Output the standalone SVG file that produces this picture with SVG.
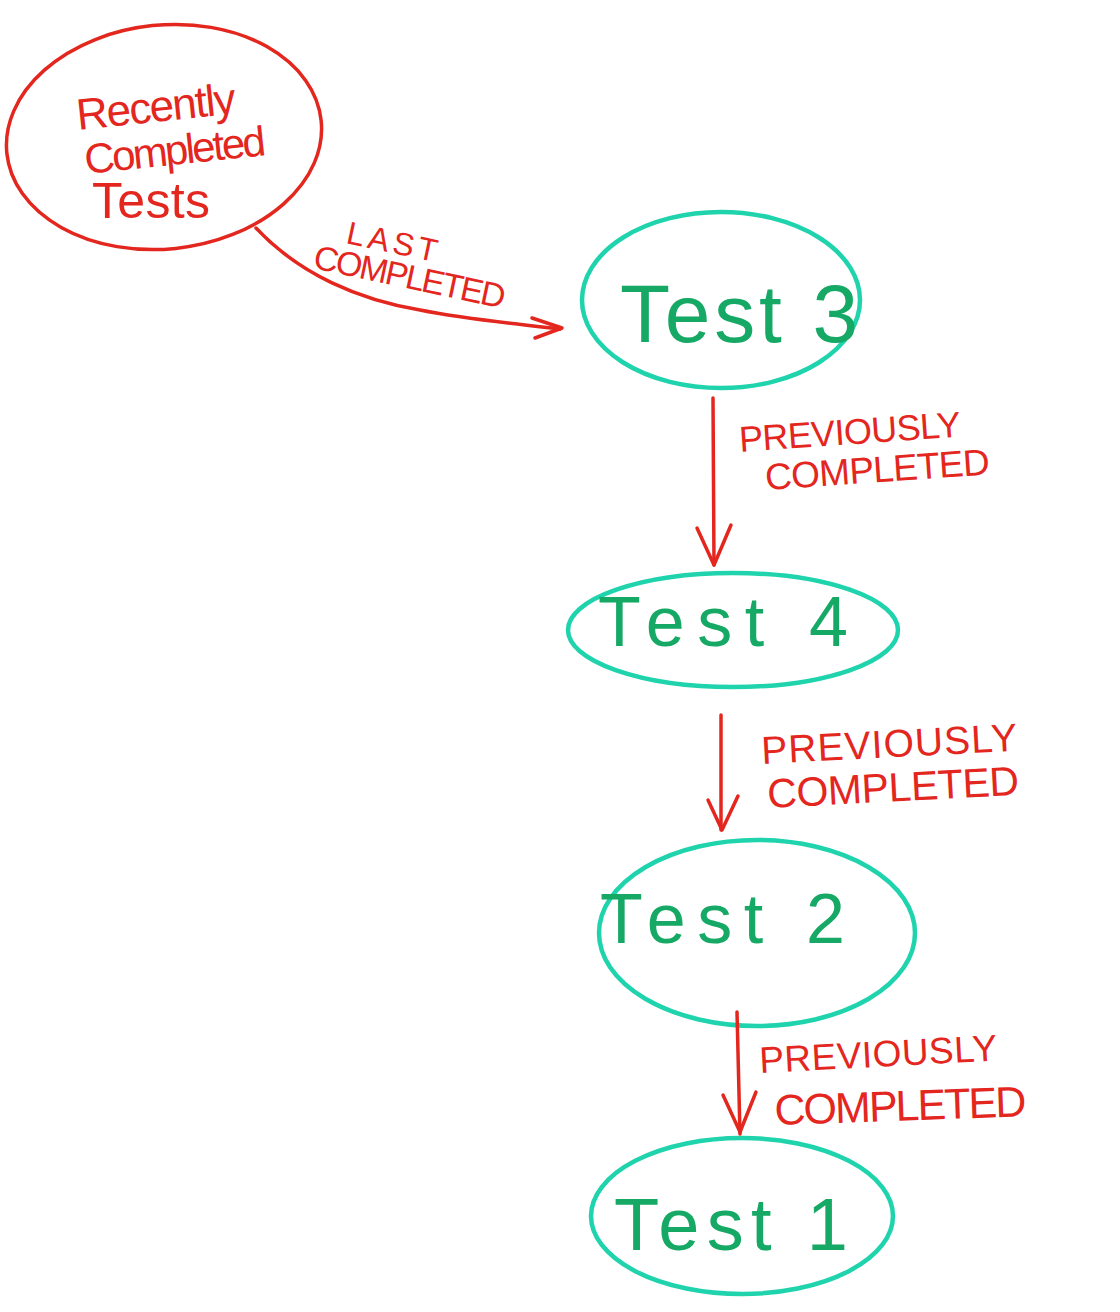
<svg xmlns="http://www.w3.org/2000/svg" width="1120" height="1312" viewBox="0 0 1120 1312">
<defs>
<style>
.red{fill:none;stroke:#e3261e;stroke-width:3.5;stroke-linecap:round;stroke-linejoin:round}
.teal{fill:none;stroke:#1fd3ad;stroke-width:4.5}
.rt{fill:#e3261e;font-family:"Liberation Sans",Arial,sans-serif}
.gt{fill:#16a865;font-family:"Liberation Sans",Arial,sans-serif}
</style>
</defs>
<rect width="1120" height="1312" fill="#ffffff"/>
<g id="recent">
<ellipse class="red" cx="164" cy="137" rx="158" ry="112" transform="rotate(-6 164 137)"/>
<text class="rt" x="78" y="130" font-size="44" textLength="160" transform="rotate(-6 78 130)">Recently</text>
<text class="rt" x="86" y="174" font-size="42" textLength="182" transform="rotate(-6 86 174)">Completed</text>
<text class="rt" x="92" y="218" font-size="50" textLength="118">Tests</text>
</g>
<g id="test3">
<ellipse class="teal" cx="721" cy="300" rx="139" ry="88"/>
<text class="gt" x="620" y="342" font-size="82" textLength="238">Test 3</text>
</g>
<g id="test4">
<ellipse class="teal" cx="733" cy="630" rx="165" ry="57"/>
<text class="gt" x="598" y="646" font-size="70" textLength="250">Test 4</text>
</g>
<g id="test2">
<ellipse class="teal" cx="757" cy="933" rx="158" ry="93"/>
<text class="gt" x="600" y="943" font-size="70" textLength="245">Test 2</text>
</g>
<g id="test1">
<ellipse class="teal" cx="742" cy="1216" rx="151" ry="78"/>
<text class="gt" x="614" y="1250" font-size="74" textLength="234">Test 1</text>
</g>
<g id="connectors">
<path class="red" d="M256 228 C300 275 360 300 420 310 C470 320 520 324 560 329"/>
<path class="red" d="M532 318 L562 328 L535 338"/>
<path class="red" d="M713 398 L714 565"/>
<path class="red" d="M697 528 L714 565 L731 525"/>
<path class="red" d="M721 715 L721 830"/>
<path class="red" d="M708 800 L722 830 L738 796"/>
<path class="red" d="M737 1012 L740 1134"/>
<path class="red" d="M723 1095 L740 1132 L756 1092"/>
</g>
<g id="labels">
<text class="rt" x="345" y="243" font-size="32" textLength="92" transform="rotate(12 345 243)">LAST</text>
<text class="rt" x="312" y="268" font-size="34" textLength="195" transform="rotate(12 312 268)">COMPLETED</text>
<text class="rt" x="740" y="452" font-size="36" textLength="222" transform="rotate(-4 740 452)">PREVIOUSLY</text>
<text class="rt" x="766" y="490" font-size="37" textLength="225" transform="rotate(-4 766 490)">COMPLETED</text>
<text class="rt" x="762" y="764" font-size="39" textLength="256" transform="rotate(-3 762 764)">PREVIOUSLY</text>
<text class="rt" x="768" y="808" font-size="41" textLength="252" transform="rotate(-3 768 808)">COMPLETED</text>
<text class="rt" x="760" y="1073" font-size="37" textLength="238" transform="rotate(-3 760 1073)">PREVIOUSLY</text>
<text class="rt" x="775" y="1125" font-size="43" textLength="252" transform="rotate(-2 775 1125)">COMPLETED</text>
</g>
</svg>
